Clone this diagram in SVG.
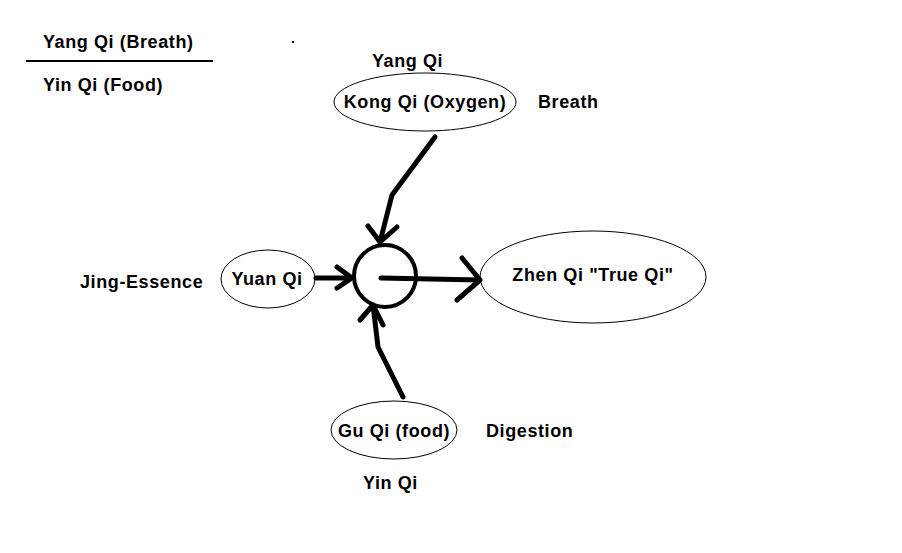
<svg xmlns="http://www.w3.org/2000/svg" width="902" height="553" viewBox="0 0 902 553">
<style>
text{font-family:"Liberation Sans",Arial,sans-serif;font-weight:bold;font-size:18px;letter-spacing:0.6px;fill:#000}
.e{fill:none;stroke:#000;stroke-width:1}
.c{fill:none;stroke:#000;stroke-width:5;stroke-linecap:round;stroke-linejoin:round}
</style>
<rect width="902" height="553" fill="#fff"/>
<g id="legend">
<text x="43" y="48">Yang Qi (Breath)</text>
<line x1="26" y1="61" x2="213" y2="61" stroke="#000" stroke-width="2"/>
<text x="43" y="91">Yin Qi (Food)</text>
<rect x="292" y="41" width="2" height="2" fill="#000"/>
</g>
<g id="kongqi">
<ellipse class="e" cx="425" cy="102" rx="91" ry="29"/>
<text x="425" y="108" text-anchor="middle">Kong Qi (Oxygen)</text>
<text x="372" y="67">Yang Qi</text>
<text x="538" y="108">Breath</text>
</g>
<g id="yuanqi">
<ellipse class="e" cx="268" cy="279" rx="47" ry="29"/>
<text x="267" y="285" text-anchor="middle">Yuan Qi</text>
<text x="80" y="288">Jing-Essence</text>
</g>
<g id="center">
<circle cx="385" cy="276" r="31" fill="none" stroke="#000" stroke-width="4"/>
</g>
<g id="zhenqi">
<ellipse class="e" cx="593" cy="277" rx="113" ry="46"/>
<text x="593" y="281" text-anchor="middle">Zhen Qi "True Qi"</text>
</g>
<g id="guqi">
<ellipse class="e" cx="394" cy="430" rx="63" ry="29"/>
<text x="394" y="437" text-anchor="middle">Gu Qi (food)</text>
<text x="486" y="437">Digestion</text>
<text x="363" y="489">Yin Qi</text>
</g>
<g id="connectors">
<path class="c" d="M435,137 L392,195 L380,242 M368,226 L380,242 L397,227"/>
<path class="c" d="M381,278 L480,280 M462,258 L480,280 L457,300"/>
<path class="c" d="M316,278 L352,278 M337,267 L352,278 L337,288"/>
<path class="c" d="M403,397 L378,347 L373,305 M360,320 L373,305 L383,325"/>
</g>
</svg>
